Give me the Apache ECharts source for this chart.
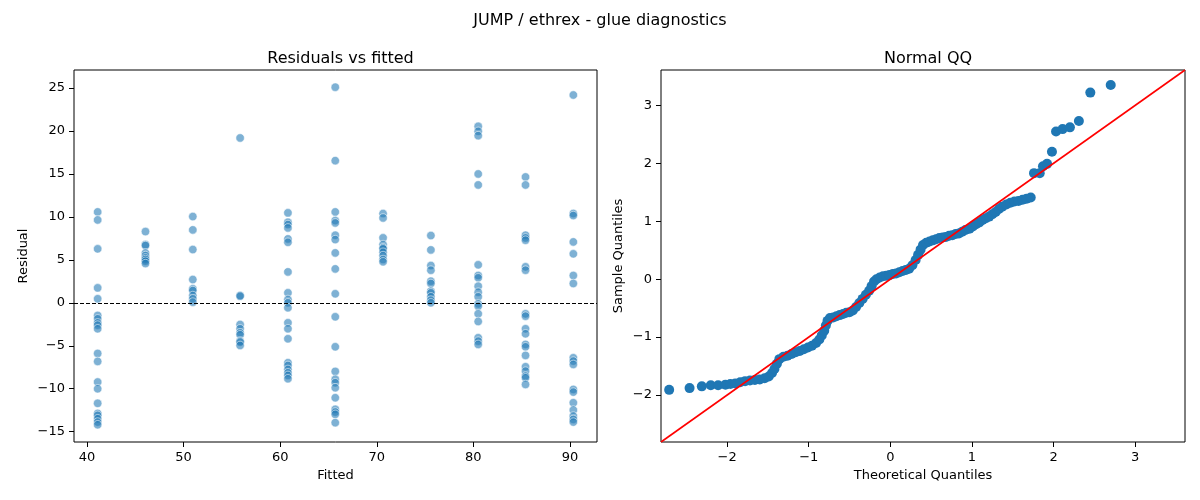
<!DOCTYPE html>
<html>
<head>
<meta charset="utf-8">
<script src="https://cdn.jsdelivr.net/npm/echarts@6/dist/echarts.min.js"></script>
<style>html,body{margin:0;padding:0;background:#fff}#c{width:1200px;height:500px}</style>
</head>
<body>
<div id="c"></div>
<script>
// ---- data ----
const fittedLevels = [41.1, 46.05, 50.95, 55.85, 60.8, 65.7, 70.65, 75.6, 80.5, 85.4, 90.35];
const residualsByLevel = [
  [10.58, 9.65, 6.28, 1.74, 0.47, -1.47, -1.86, -2.33, -2.6, -3.02, -5.89, -6.82, -9.22, -10.0, -11.7, -12.87, -13.1, -13.49, -13.88, -14.19],
  [8.29, 6.78, 6.67, 5.81, 5.5, 5.23, 5.04, 4.84, 4.57],
  [10.04, 8.49, 6.2, 2.71, 1.63, 1.43, 0.85, 0.47, 0.08],
  [19.19, 0.85, 0.78, -2.52, -3.02, -3.49, -3.72, -4.46, -4.57, -4.96],
  [10.47, 9.38, 9.11, 8.72, 7.44, 7.05, 3.6, 1.16, 0.39, 0.0, -0.58, -2.33, -3.02, -4.19, -6.98, -7.29, -7.75, -8.14, -8.45, -8.84],
  [25.1, 16.55, 10.58, 9.57, 9.3, 7.87, 7.36, 5.81, 3.95, 1.05, -1.63, -5.12, -7.98, -8.91, -9.3, -9.88, -11.05, -12.4, -12.71, -12.98, -13.95],
  [10.39, 9.88, 7.56, 6.78, 6.4, 6.28, 5.89, 5.5, 5.04, 4.77],
  [7.83, 6.16, 4.34, 3.8, 2.52, 2.25, 1.36, 1.16, 0.7, 0.31, 0.0],
  [20.54, 19.96, 19.46, 15.0, 13.72, 4.42, 3.18, 2.91, 1.94, 1.24, 0.7, -0.12, -0.39, -1.28, -2.17, -4.07, -4.46, -4.84],
  [14.65, 13.72, 7.87, 7.56, 7.29, 4.19, 3.8, -1.28, -1.55, -3.02, -3.6, -4.84, -5.12, -6.12, -7.44, -7.95, -8.53, -8.72, -9.5],
  [24.19, 10.39, 10.16, 7.09, 5.7, 3.18, 2.25, -6.4, -6.78, -7.17, -10.08, -10.39, -11.63, -12.48, -13.18, -13.57, -13.88]
];
const qqTheoretical = [-2.71,-2.46,-2.31,-2.20,-2.11,-2.02,-1.96,-1.90,-1.84,-1.78,-1.72,-1.66,-1.60,-1.54,-1.49,-1.45,-1.42,-1.39,-1.36,-1.31,-1.26,-1.21,-1.16,-1.11,-1.06,-1.01,-0.96,-0.91,-0.87,-0.84,-0.81,-0.79,-0.77,-0.74,-0.70,-0.66,-0.62,-0.58,-0.54,-0.50,-0.46,-0.42,-0.38,-0.34,-0.30,-0.26,-0.23,-0.20,-0.17,-0.13,-0.09,-0.05,-0.01,0.03,0.07,0.11,0.15,0.19,0.23,0.27,0.31,0.34,0.37,0.40,0.44,0.48,0.52,0.56,0.60,0.64,0.68,0.72,0.76,0.80,0.84,0.88,0.92,0.97,1.01,1.05,1.09,1.13,1.17,1.21,1.25,1.29,1.33,1.37,1.42,1.47,1.52,1.57,1.62,1.67,1.72,1.76,1.83,1.87,1.92,1.98,2.03,2.11,2.20,2.31,2.45,2.70];
const qqSample = [-1.91,-1.88,-1.85,-1.83,-1.83,-1.82,-1.81,-1.80,-1.78,-1.76,-1.75,-1.74,-1.73,-1.71,-1.68,-1.62,-1.55,-1.46,-1.38,-1.34,-1.32,-1.29,-1.26,-1.24,-1.21,-1.18,-1.15,-1.10,-1.04,-0.97,-0.89,-0.80,-0.72,-0.67,-0.66,-0.64,-0.62,-0.60,-0.58,-0.57,-0.54,-0.48,-0.41,-0.34,-0.27,-0.20,-0.12,-0.04,0.00,0.03,0.05,0.06,0.07,0.09,0.10,0.12,0.14,0.16,0.18,0.24,0.33,0.42,0.51,0.59,0.63,0.65,0.67,0.69,0.71,0.72,0.73,0.75,0.76,0.78,0.79,0.82,0.85,0.87,0.91,0.95,0.98,1.02,1.05,1.08,1.12,1.16,1.21,1.25,1.29,1.32,1.34,1.35,1.37,1.39,1.41,1.83,1.83,1.95,1.99,2.20,2.55,2.59,2.62,2.73,3.22,3.35];
const qqLineEnds = [-2.81, 3.61];
const leftXTicks = [40, 50, 60, 70, 80, 90];
const leftYTicks = [-15, -10, -5, 0, 5, 10, 15, 20, 25];
const qqTicks = [-2, -1, 0, 1, 2, 3];

// ---- build ----
const resData = [];
fittedLevels.forEach((f, i) => residualsByLevel[i].forEach(r => resData.push([f, r])));
const qqData = qqTheoretical.map((t, i) => [t, qqSample[i]]);
const lineData = qqLineEnds.map(v => [v, v]);

const FONT = 'DejaVu Sans';
const tickLbl = { color: '#000', fontFamily: FONT, fontSize: 13 };
const minus = v => String(v).replace('-', '\u2212');
function axis(ticks, extra) {
  return Object.assign({
    type: 'value',
    axisLine: { show: false, onZero: false },
    splitLine: { show: false },
    axisTick: { show: true, inside: false, length: 5, customValues: ticks, lineStyle: { color: '#000', width: 1 } },
    axisLabel: Object.assign({ margin: 9, customValues: ticks, formatter: minus }, tickLbl),
    nameTextStyle: { color: '#000', fontFamily: FONT, fontSize: 13 },
    nameLocation: 'middle'
  }, extra);
}

const chart = echarts.init(document.getElementById('c'), null, { renderer: 'canvas' });
chart.setOption({
  backgroundColor: '#fff',
  animation: false,
  title: [
    { text: 'JUMP / ethrex - glue diagnostics', left: 'center', top: 8, textStyle: { fontFamily: FONT, fontSize: 16, fontWeight: 'normal', color: '#000' } },
    { text: 'Residuals vs fitted', left: 335.5, top: 46, textAlign: 'center', textStyle: { fontFamily: FONT, fontSize: 16, fontWeight: 'normal', color: '#000' } },
    { text: 'Normal QQ', left: 923, top: 46, textAlign: 'center', textStyle: { fontFamily: FONT, fontSize: 16, fontWeight: 'normal', color: '#000' } }
  ],
  grid: [
    { left: 74, top: 70, width: 523, height: 372, show: true, borderColor: '#000', borderWidth: 1, backgroundColor: 'transparent' },
    { left: 661, top: 70, width: 524, height: 372, show: true, borderColor: '#000', borderWidth: 1, backgroundColor: 'transparent' }
  ],
  xAxis: [
    axis(leftXTicks, { gridIndex: 0, min: 38.65, max: 92.8, name: 'Fitted', nameGap: 27 }),
    axis(qqTicks, { gridIndex: 1, min: qqLineEnds[0], max: qqLineEnds[1], name: 'Theoretical Quantiles', nameGap: 27 })
  ],
  yAxis: [
    axis(leftYTicks, { gridIndex: 0, min: -16.2, max: 27.1, name: 'Residual', nameGap: 44 }),
    axis(qqTicks, { gridIndex: 1, min: qqLineEnds[0], max: qqLineEnds[1], name: 'Sample Quantiles', nameGap: 36 })
  ],
  series: [
    {
      type: 'scatter', xAxisIndex: 0, yAxisIndex: 0, data: resData, symbolSize: 8.5,
      itemStyle: { color: 'rgba(31,119,180,0.72)', borderColor: 'rgba(255,255,255,0.85)', borderWidth: 0.8 },
      markLine: { silent: true, symbol: 'none', label: { show: false },
        lineStyle: { color: '#000', type: [4, 2], width: 1 }, data: [{ yAxis: 0 }] },
      z: 3
    },
    {
      type: 'scatter', xAxisIndex: 1, yAxisIndex: 1, data: qqData, symbolSize: 10,
      itemStyle: { color: '#1f77b4', opacity: 1 }, z: 2
    },
    {
      type: 'line', xAxisIndex: 1, yAxisIndex: 1, data: lineData, symbol: 'none',
      lineStyle: { color: '#ff0000', width: 1.6 }, z: 4, clip: true
    }
  ]
});
</script>
</body>
</html>
